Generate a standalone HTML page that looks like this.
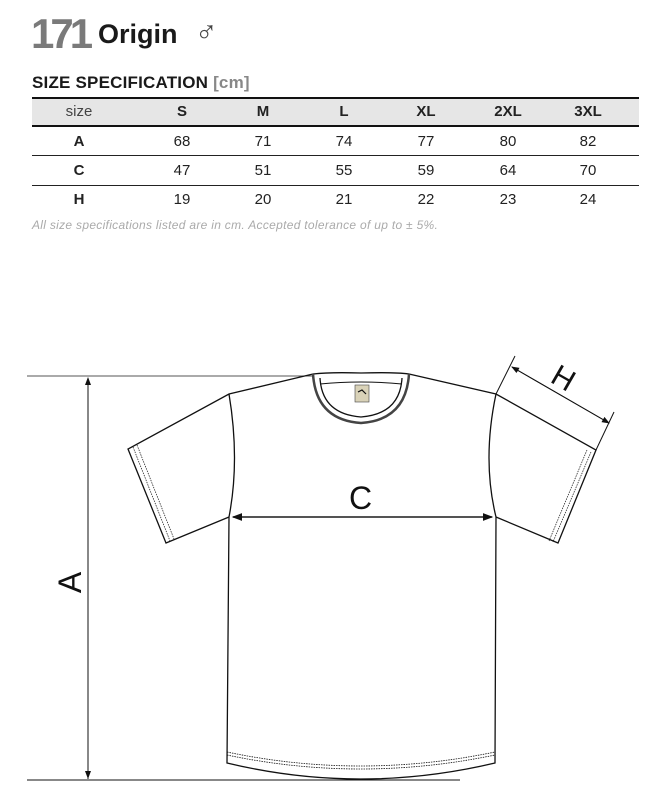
<!DOCTYPE html>
<html><head><style>
body{margin:0;width:671px;height:801px;background:#fff;font-family:"Liberation Sans",sans-serif;position:relative;overflow:hidden}
.t{position:absolute;white-space:nowrap}
.c{position:absolute;transform:translateX(-50%);font-size:15px;color:#222}
.b{font-weight:bold}
</style></head><body>
<div class="t b" style="left:31px;top:10px;font-size:42px;color:#7a7a7a;letter-spacing:-4px">171</div>
<div class="t b" style="left:98px;top:19px;font-size:27px;color:#1a1a1a">Origin</div>
<div class="t" style="left:195px;top:16px;font-size:30px;color:#444">♂</div>
<div class="t b" style="left:32px;top:73px;font-size:17px;color:#1a1a1a;letter-spacing:0.2px">SIZE SPECIFICATION <span style="color:#888">[cm]</span></div>
<div style="position:absolute;left:32px;top:97px;width:607px;height:30px;background:#e6e6e6;border-top:2px solid #111;border-bottom:2px solid #111;box-sizing:border-box"></div>
<div style="position:absolute;left:32px;top:155px;width:607px;height:1px;background:#222"></div>
<div style="position:absolute;left:32px;top:185px;width:607px;height:1px;background:#222"></div>
<div class="c" style="left:79px;top:103px;color:#444">size</div>
<div class="c b" style="left:182px;top:103px">S</div><div class="c b" style="left:263px;top:103px">M</div><div class="c b" style="left:344px;top:103px">L</div><div class="c b" style="left:426px;top:103px">XL</div><div class="c b" style="left:508px;top:103px">2XL</div><div class="c b" style="left:588px;top:103px">3XL</div>
<div class="c b" style="left:79px;top:133px">A</div>
<div class="c" style="left:182px;top:133px">68</div><div class="c" style="left:263px;top:133px">71</div><div class="c" style="left:344px;top:133px">74</div><div class="c" style="left:426px;top:133px">77</div><div class="c" style="left:508px;top:133px">80</div><div class="c" style="left:588px;top:133px">82</div>
<div class="c b" style="left:79px;top:162px">C</div>
<div class="c" style="left:182px;top:162px">47</div><div class="c" style="left:263px;top:162px">51</div><div class="c" style="left:344px;top:162px">55</div><div class="c" style="left:426px;top:162px">59</div><div class="c" style="left:508px;top:162px">64</div><div class="c" style="left:588px;top:162px">70</div>
<div class="c b" style="left:79px;top:191px">H</div>
<div class="c" style="left:182px;top:191px">19</div><div class="c" style="left:263px;top:191px">20</div><div class="c" style="left:344px;top:191px">21</div><div class="c" style="left:426px;top:191px">22</div><div class="c" style="left:508px;top:191px">23</div><div class="c" style="left:588px;top:191px">24</div>
<div class="t" style="left:32px;top:218px;font-size:12px;font-style:italic;color:#aaa;letter-spacing:0.3px">All size specifications listed are in cm. Accepted tolerance of up to ± 5%.</div>
<svg width="671" height="801" style="position:absolute;left:0;top:0" fill="none" stroke="#111" stroke-width="1.3">
<defs><marker id="ar" markerWidth="8" markerHeight="8" refX="7" refY="4" orient="auto"><path d="M0,1 L8,4 L0,7z" fill="#111" stroke="none"/></marker></defs>
<line x1="27" y1="376" x2="313" y2="376" stroke="#555" stroke-width="1"/>
<line x1="27" y1="780" x2="460" y2="780" stroke-width="1"/>
<line x1="88" y1="779" x2="88" y2="378" marker-end="url(#ar)" stroke-width="1"/>
<line x1="88" y1="378" x2="88" y2="778" marker-end="url(#ar)" stroke-width="1"/>
<path d="M313,374 L229,394 L128,449 L166,543 L229,517"/>
<path d="M409,374 L496,394 L596,450 L558,543 L496,517"/>
<path d="M229,394 Q240,460 229,517 L227,763 Q360,795 495,763 L496,517 Q482,460 496,394"/>
<path d="M227,752 Q360,780 495,752" stroke-dasharray="1.5 1" stroke-width="0.8"/>
<path d="M227,755 Q360,783 495,755" stroke-dasharray="1.5 1" stroke-width="0.8"/>
<path d="M133,447 L170,541 M137,445 L174,539" stroke-dasharray="1.5 1" stroke-width="0.7"/>
<path d="M591,452 L553,542 M587,450 L549,541" stroke-dasharray="1.5 1" stroke-width="0.7"/>
<path d="M313,374 Q330,372 361,373 Q395,372 409,374"/>
<path d="M313,374 Q316,420 361,423 Q406,420 409,374" stroke-width="2.5" stroke="#444"/>
<path d="M320,378 Q322,414 361,417 Q400,414 402,378"/>
<path d="M320,384 Q361,380 402,384" stroke-width="1"/>
<rect x="355" y="385" width="14" height="17" fill="#d9d2b8" stroke="#444" stroke-width="0.6"/>
<path d="M358,392 L362,390 L366,394" stroke-width="1.2"/>
<line x1="233" y1="517" x2="492" y2="517" marker-end="url(#ar)"/>
<line x1="492" y1="517" x2="233" y2="517" marker-end="url(#ar)"/>
<line x1="496" y1="394" x2="515" y2="356" stroke-width="1"/>
<line x1="596" y1="450" x2="614" y2="412" stroke-width="1"/>
<line x1="512" y1="367" x2="609" y2="423" marker-end="url(#ar)" stroke-width="1"/>
<line x1="609" y1="423" x2="512" y2="367" marker-end="url(#ar)" stroke-width="1"/>
</svg>
<div class="t" style="left:349px;top:480px;font-size:32px;color:#111">C</div>
<div class="t" style="left:552px;top:362px;font-size:30px;color:#111;transform:rotate(30deg)">H</div>
<div class="t" style="left:60px;top:564px;font-size:32px;color:#111;transform:rotate(-90deg)">A</div>
</body></html>
